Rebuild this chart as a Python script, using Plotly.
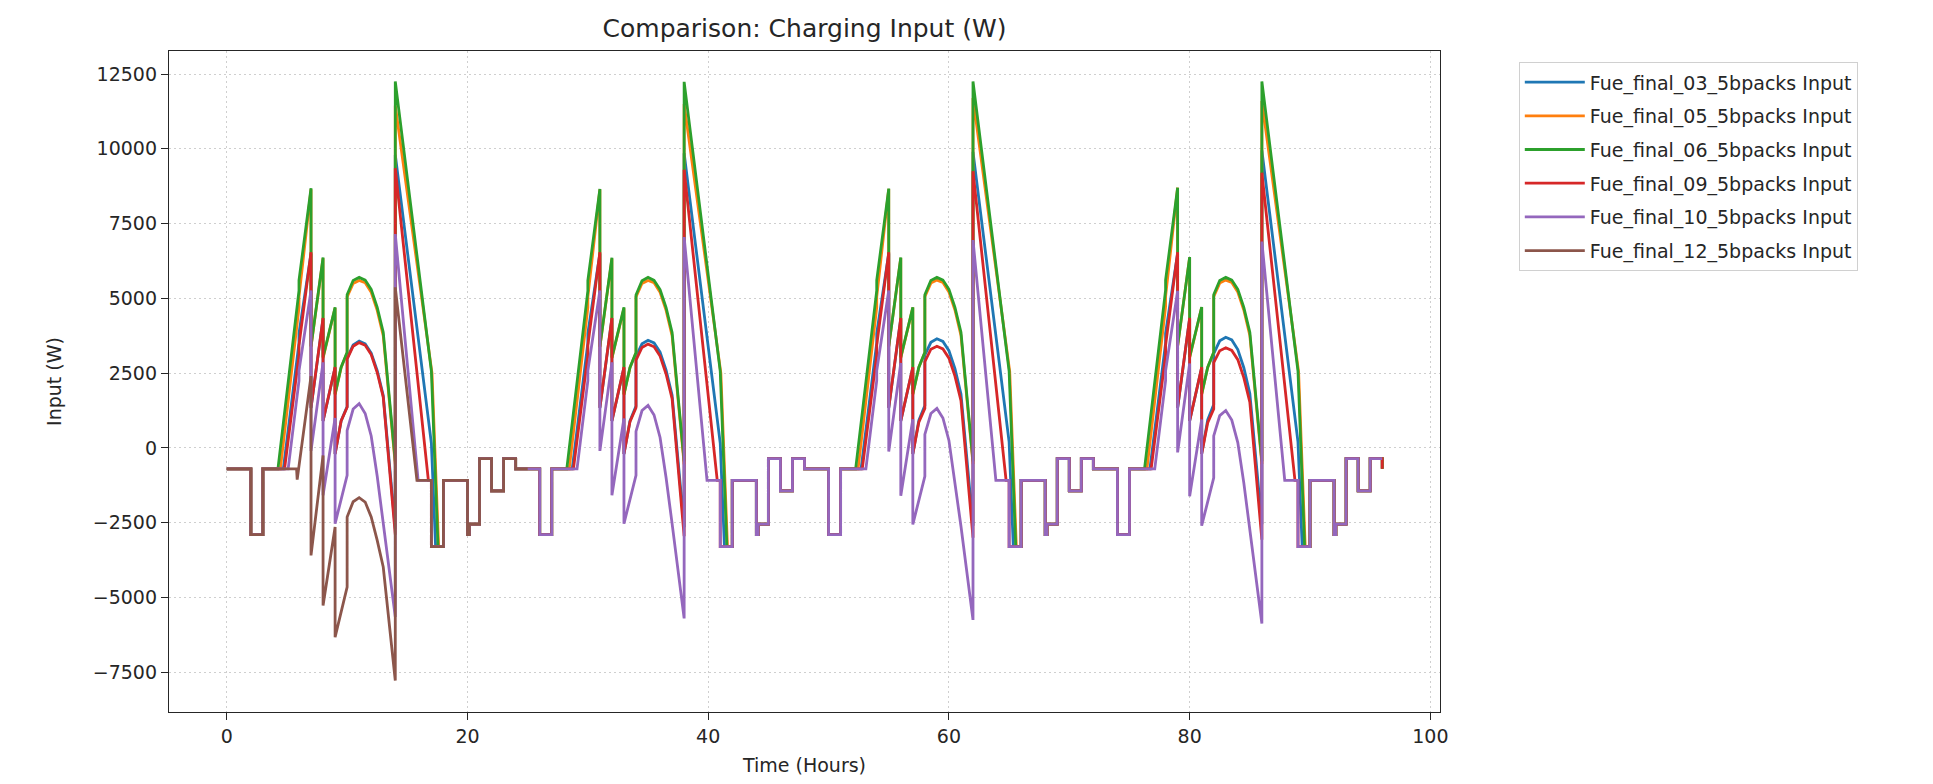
import plotly.graph_objects as go

# ---------------- data (hours, watts) ----------------
NAMES = ["Fue_final_03_5bpacks Input", "Fue_final_05_5bpacks Input",
         "Fue_final_06_5bpacks Input", "Fue_final_09_5bpacks Input",
         "Fue_final_10_5bpacks Input", "Fue_final_12_5bpacks Input"]
COLORS = ["#1f77b4", "#ff7f0e", "#2ca02c", "#d62728", "#9467bd", "#8c564b"]

# night-time profile shared by all systems (hour of day, W)
NIGHT_AM_H = [0, 2, 2, 3, 3]
NIGHT_AM_W = [-700, -700, -2900, -2900, -700]
EVENING_H = [18, 18, 20, 20, 20.15, 20.15, 21, 21, 22, 22, 23, 23, 24]
EVENING_W = [-3300, -1083, -1083, -2900, -2900, -2550, -2550, -357, -357, -1440, -1440, -357, -357]

# daytime vertices (hour of day) and values for each of the 4 days
BLUE_H = [4.7, 6, 6, 7, 7, 8, 8, 9, 9, 9.5, 10, 10, 10.5, 11, 11.5, 12, 12.5, 13, 14, 14, 17, 17.35]
BLUE_D1 = [-700, 3500, 3830, 6500, 1330, 4330, 900, 2690, -200, 900, 1380, 3000, 3440, 3570, 3480, 3170, 2580, 1750, -2700, 9800, 150, -3300]
BLUE_D2 = [-700, 3500, 3830, 6500, 1330, 4330, 900, 2690, -200, 900, 1400, 3050, 3480, 3600, 3510, 3200, 2600, 1760, -2650, 9850, 150, -3300]
BLUE_D3 = [-700, 3500, 3830, 6500, 1330, 4330, 900, 2690, -200, 920, 1420, 3100, 3530, 3650, 3560, 3250, 2650, 1800, -2600, 9900, 200, -3300]
BLUE_D4 = [-700, 3500, 3830, 6500, 1330, 4330, 900, 2690, -200, 940, 1450, 3150, 3580, 3700, 3610, 3290, 2680, 1820, -2550, 9950, 200, -3300]

ORANGE_H = [4.45, 6, 6, 7, 7, 8, 8, 9, 9, 9.5, 10, 10, 10.5, 11, 11.5, 12, 12.5, 13, 14, 14, 17.05, 17.6]
ORANGE_D1 = [-700, 4700, 5050, 8650, 3380, 6340, 3000, 4680, 1780, 2680, 3180, 5050, 5500, 5600, 5520, 5200, 4600, 3750, -550, 11450, 2500, -3300]
ORANGE_D2 = [-700, 4700, 5050, 8640, 3370, 6330, 3000, 4670, 1780, 2680, 3180, 5050, 5500, 5600, 5520, 5200, 4600, 3750, -550, 11500, 2500, -3300]
ORANGE_D3 = [-700, 4700, 5050, 8660, 3390, 6350, 3010, 4690, 1790, 2690, 3190, 5060, 5510, 5610, 5530, 5210, 4610, 3760, -540, 11700, 2550, -3300]
ORANGE_D4 = [-700, 4720, 5070, 8700, 3400, 6370, 3020, 4700, 1790, 2690, 3190, 5060, 5510, 5610, 5530, 5210, 4610, 3760, -540, 11600, 2550, -3300]

GREEN_H = [4.25, 6, 6, 7, 7, 8, 8, 9, 9, 9.5, 10, 10, 10.5, 11, 11.5, 12, 12.5, 13, 14, 14, 17, 17.55]
GREEN_D1 = [-700, 5260, 5600, 8680, 3400, 6370, 3030, 4700, 1800, 2700, 3200, 5120, 5600, 5700, 5610, 5300, 4700, 3870, -450, 12250, 2570, -3300]
GREEN_D2 = [-700, 5250, 5590, 8660, 3390, 6360, 3020, 4700, 1790, 2690, 3190, 5110, 5590, 5700, 5600, 5290, 4690, 3860, -450, 12240, 2560, -3300]
GREEN_D3 = [-700, 5260, 5600, 8670, 3400, 6370, 3030, 4700, 1800, 2700, 3200, 5120, 5600, 5700, 5610, 5300, 4700, 3870, -450, 12250, 2570, -3300]
GREEN_D4 = [-700, 5270, 5610, 8700, 3410, 6380, 3040, 4710, 1800, 2700, 3200, 5120, 5600, 5700, 5610, 5300, 4700, 3870, -450, 12250, 2570, -3300]

RED_H = [4.8, 6, 6, 7, 7, 8, 8, 9, 9, 9.5, 10, 10, 10.5, 11, 11.5, 12, 12.5, 13, 14, 14, 16.75, 17, 17]
RED_D1 = [-700, 3100, 3430, 6540, 1345, 4345, 900, 2700, -200, 900, 1360, 2970, 3400, 3520, 3430, 3120, 2520, 1700, -2900, 9350, -1083, -1083, -3300]
RED_D2 = [-700, 3100, 3430, 6540, 1345, 4345, 900, 2700, -200, 880, 1340, 2930, 3360, 3470, 3380, 3070, 2470, 1650, -2950, 9300, -1083, -1083, -3300]
RED_D3 = [-700, 3100, 3430, 6540, 1345, 4345, 900, 2700, -200, 860, 1320, 2880, 3300, 3400, 3310, 3000, 2400, 1580, -3000, 9250, -1083, -1083, -3300]
RED_D4 = [-700, 3100, 3430, 6540, 1345, 4345, 900, 2700, -200, 840, 1300, 2850, 3250, 3350, 3260, 2950, 2350, 1530, -3070, 9200, -1083, -1083, -3300]

PURPLE_H = [5.1, 6, 6, 7, 7, 8, 8, 9, 9, 10, 10, 10.5, 11, 11.5, 12, 12.5, 13, 14, 14, 15.9, 17, 17]
PURPLE_D1 = [-700, 2250, 2580, 5260, -100, 2860, -1585, 1000, -2533, -915, 580, 1300, 1480, 1150, 400, -950, -2500, -5650, 7150, -1083, -1083, -3300]
PURPLE_D2 = [-700, 2250, 2580, 5260, -100, 2860, -1585, 980, -2533, -915, 550, 1250, 1420, 1100, 350, -1000, -2530, -5700, 7050, -1083, -1083, -3300]
PURPLE_D3 = [-700, 2250, 2580, 5260, -120, 2840, -1600, 960, -2560, -950, 450, 1150, 1320, 1000, 250, -1100, -2620, -5750, 6950, -1083, -1083, -3300]
PURPLE_D4 = [-700, 2250, 2580, 5250, -150, 2820, -1620, 950, -2600, -1000, 400, 1080, 1250, 930, 180, -1170, -2700, -5870, 6900, -1083, -1083, -3300]

BROWN_H = [5.8, 5.85, 7, 7, 8, 8, 9, 9, 10, 10, 10.5, 11, 11.5, 12, 12.5, 13, 14, 14, 15.8, 17, 17]
BROWN_D1 = [-700, -1060, 2400, -3594, -250, -5268, -2645, -6328, -4654, -2310, -1800, -1663, -1810, -2310, -3091, -3984, -7779, 5370, -1083, -1083, -3300]

DAY_LEN = 24
END_TAIL_H = [96]
END_TAIL_W = [-700]
BROWN_TAIL_H = [24, 25]
BROWN_TAIL_W = [-700, -700]

X_TICKS = [0, 20, 40, 60, 80, 100]
Y_TICKS = [-7500, -5000, -2500, 0, 2500, 5000, 7500, 10000, 12500]


def build(day_h, day_lists, tail_h=None, tail_w=None):
    xs, ys = [], []
    for d, vals in enumerate(day_lists):
        off = d * DAY_LEN
        for h, w in zip(NIGHT_AM_H + day_h + EVENING_H, NIGHT_AM_W + vals + EVENING_W):
            xs.append(h + off)
            ys.append(w)
    if tail_h:
        xs += tail_h
        ys += tail_w
    return xs, ys


series = [
    build(BLUE_H, [BLUE_D1, BLUE_D2, BLUE_D3, BLUE_D4], END_TAIL_H, END_TAIL_W),
    build(ORANGE_H, [ORANGE_D1, ORANGE_D2, ORANGE_D3, ORANGE_D4], END_TAIL_H, END_TAIL_W),
    build(GREEN_H, [GREEN_D1, GREEN_D2, GREEN_D3, GREEN_D4], END_TAIL_H, END_TAIL_W),
    build(RED_H, [RED_D1, RED_D2, RED_D3, RED_D4], END_TAIL_H, END_TAIL_W),
    build(PURPLE_H, [PURPLE_D1, PURPLE_D2, PURPLE_D3, PURPLE_D4]),
    build(BROWN_H, [BROWN_D1], BROWN_TAIL_H, BROWN_TAIL_W),
]

fig = go.Figure()
for i, ((xs, ys), name, col) in enumerate(zip(series, NAMES, COLORS)):
    fig.add_trace(go.Scatter(x=xs, y=ys, mode="lines", name=name, legendgroup=f"g{i}",
                             line=dict(color=col, width=2.8), hoverinfo="skip"))

FONT = "DejaVu Sans"
TXT = "#262626"

# page has an 8px body margin: figure is drawn 8px right/down
W, H = 1917, 768
L, R, T, B = 161, 485, 43, 64


def fmt(v):
    s = str(abs(v))
    return ("\u2212" + s) if v < 0 else s


fig.update_layout(
    width=W, height=H,
    margin=dict(l=L, r=R, t=T, b=B, autoexpand=False),
    paper_bgcolor="white", plot_bgcolor="white",
    font=dict(family=FONT, size=19, color=TXT),
    title=dict(text="Comparison: Charging Input (W)", x=(L + (W - R)) / 2 / W,
               xanchor="center", y=1 - 20 / H, yanchor="middle",
               font=dict(family=FONT, size=25, color=TXT)),
    showlegend=True,
    legend=dict(x=1.062, y=0.983, xanchor="left", yanchor="top",
                bgcolor="white", bordercolor="#d0d0d0", borderwidth=1,
                font=dict(family=FONT, size=19, color=TXT),
                itemwidth=60, tracegroupgap=6),
    xaxis=dict(range=[-4.8, 100.8], tickmode="array", tickvals=X_TICKS,
               ticktext=[fmt(v) for v in X_TICKS], automargin=False,
               showgrid=True, gridcolor="#cfcfcf", griddash="2px,3px", gridwidth=1,
               showline=True, linecolor=TXT, linewidth=1.3, mirror=True,
               ticks="outside", ticklen=7, tickcolor=TXT, zeroline=False,
               tickfont=dict(family=FONT, size=19, color=TXT),
               title=dict(text="Time (Hours)", font=dict(family=FONT, size=19, color=TXT), standoff=20)),
    yaxis=dict(range=[-8830, 13270], tickmode="array", tickvals=Y_TICKS,
               ticktext=[fmt(v) for v in Y_TICKS], automargin=False,
               showgrid=True, gridcolor="#cfcfcf", griddash="2px,3px", gridwidth=1,
               showline=True, linecolor=TXT, linewidth=1.3, mirror=True,
               ticks="outside", ticklen=7, tickcolor=TXT, zeroline=False,
               tickfont=dict(family=FONT, size=19, color=TXT),
               title=dict(text="Input (W)", font=dict(family=FONT, size=19, color=TXT), standoff=26)),
)

fig.write_html("out.html")
